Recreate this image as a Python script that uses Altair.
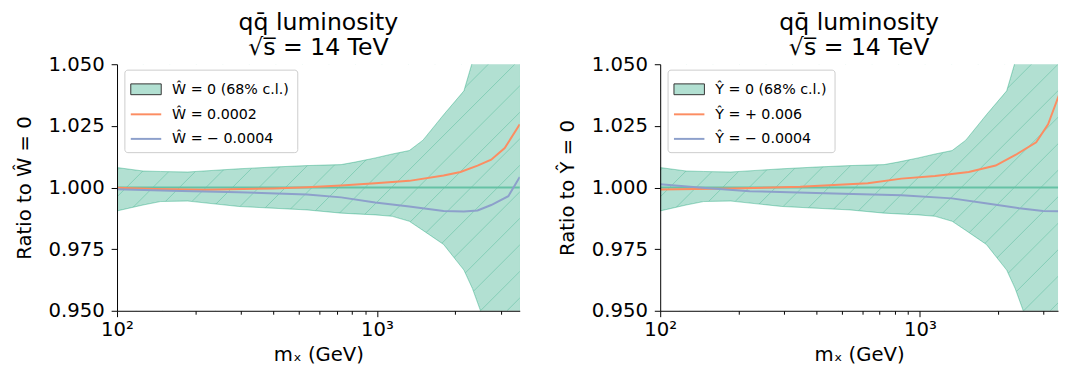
import altair as alt
import pandas as pd

# ---------------- data ----------------
band_m = [100, 126, 147, 187, 294, 398, 538, 728, 822, 984, 1145, 1331, 1502, 1803, 2159, 2328, 2500, 3000, 3540]
band_upper = [1.0081, 1.0067, 1.0065, 1.0063, 1.0076, 1.0083, 1.0089, 1.0093, 1.0103, 1.0120, 1.0136,
              1.0150, 1.0192, 1.0295, 1.0392, 1.0510, 1.0620, 1.0900, 1.1200]
band_lower = [0.9905, 0.9929, 0.9943, 0.9945, 0.9923, 0.9916, 0.9909, 0.9896, 0.9893, 0.9889, 0.9883,
              0.9863, 0.9826, 0.9769, 0.9665, 0.9590, 0.9500, 0.9300, 0.9200]

w_pos_m = [100, 140, 218, 398, 538, 728, 984, 1331, 1803, 2094, 2436, 2749, 3099, 3540]
w_pos_v = [0.9999, 0.9994, 0.9991, 0.9996, 1.0001, 1.0008, 1.0017, 1.0027, 1.0049, 1.0063, 1.0089,
           1.0113, 1.0160, 1.0256]
w_neg_m = [100, 161, 294, 538, 728, 984, 1331, 1803, 2159, 2436, 2749, 3199, 3540]
w_neg_v = [0.9993, 0.9987, 0.9981, 0.9972, 0.9960, 0.9939, 0.9923, 0.9905, 0.9903, 0.9907, 0.9929,
           0.9965, 1.0043]

y_pos_m = [100, 190, 346, 630, 849, 1143, 1542, 1958, 2343, 2805, 3117, 3436, 3540]
y_pos_v = [0.9992, 0.9996, 1.0003, 1.0017, 1.0036, 1.0047, 1.0063, 1.0089, 1.0133, 1.0183, 1.0256,
           1.0376, 1.0420]
y_neg_m = [100, 141, 221, 467, 849, 1328, 1791, 2415, 2978, 3540]
y_neg_v = [1.0013, 1.0000, 0.9985, 0.9976, 0.9969, 0.9956, 0.9936, 0.9916, 0.9905, 0.9903]

central = [1.0]
x_ticks = [100, 200, 300, 400, 500, 600, 700, 800, 900, 1000, 2000, 3000]
y_ticks = [0.95, 0.975, 1.0, 1.025, 1.05]

left_labels = ["Ŵ = 0 (68% c.l.)", "Ŵ = 0.0002", "Ŵ =  − 0.0004"]
right_labels = ["Ŷ = 0 (68% c.l.)", "Ŷ =  + 0.006", "Ŷ =  − 0.0004"]
title_lines = ["qq\u0304 luminosity", "\u221As\u0305 = 14 TeV"]

TEAL = "#66c2a5"
ORANGE = "#fc8d62"
PURPLE = "#8da0cb"
FONT = "DejaVu Sans"
H = 251


def panel(width, xmax, pos_m, pos_v, neg_m, neg_v, ytitle, labels, box_w):
    band = pd.DataFrame({"m": band_m, "upper": band_upper, "lower": band_lower})
    pos = pd.DataFrame({"m": pos_m, "v": pos_v})
    neg = pd.DataFrame({"m": neg_m, "v": neg_v})
    one = pd.DataFrame({"a": [0]})

    xs = alt.Scale(type="log", domain=[100, xmax], nice=False)
    ys = alt.Scale(domain=[0.95, 1.05], nice=False, zero=False)
    xaxis = alt.Axis(
        values=x_ticks,
        labelExpr="datum.value == 100 ? '10²' : datum.value == 1000 ? '10³' : ''",
        tickSize={"condition": {"test": "datum.value == 100 || datum.value == 1000", "value": 6},
                  "value": 3.5},
        labelFlush=False, labelPadding=3, title="mₓ (GeV)", titlePadding=6,
        grid=False, zindex=1,
    )
    yaxis = alt.Axis(
        values=y_ticks, format=".3f", tickSize=6, labelPadding=7, labelFlush=False,
        minExtent=72, maxExtent=72, title=ytitle, titlePadding=12, grid=False, zindex=1,
    )
    X = alt.X("m:Q", scale=xs, axis=xaxis)

    area = alt.Chart(band).mark_area(fill=TEAL, fillOpacity=0.5, stroke=TEAL, strokeOpacity=0.6,
                                     strokeWidth=1, clip=True).encode(
        x=X, y=alt.Y("upper:Q", scale=ys, axis=yaxis), y2="lower:Q")

    hatch = alt.Chart(alt.sequence(-H, width + 1, 27, as_="k")).transform_calculate(
        hx1="datum.k", hx2="datum.k + %d" % H, hy1=str(H), hy2="0"
    ).mark_rule(color=TEAL, opacity=0.6, strokeWidth=1, clip=True).encode(
        x=alt.X("hx1:Q", scale=None), x2="hx2:Q", y=alt.Y("hy1:Q", scale=None), y2="hy2:Q")

    mask_up = alt.Chart(band).mark_area(color="white", opacity=1, clip=True).encode(
        x="m:Q", y="upper:Q", y2=alt.Y2Datum(1.3))
    mask_lo = alt.Chart(band).mark_area(color="white", opacity=1, clip=True).encode(
        x="m:Q", y="lower:Q", y2=alt.Y2Datum(0.8))
    edge_up = alt.Chart(band).mark_line(color=TEAL, opacity=0.6, strokeWidth=1, clip=True).encode(
        x="m:Q", y="upper:Q")
    edge_lo = alt.Chart(band).mark_line(color=TEAL, opacity=0.6, strokeWidth=1, clip=True).encode(
        x="m:Q", y="lower:Q")

    rule = alt.Chart(pd.DataFrame({"c": central})).mark_rule(color=TEAL, strokeWidth=2).encode(
        y="c:Q")
    lpos = alt.Chart(pos).mark_line(color=ORANGE, strokeWidth=2, clip=True).encode(x="m:Q", y="v:Q")
    lneg = alt.Chart(neg).mark_line(color=PURPLE, strokeWidth=2, clip=True).encode(x="m:Q", y="v:Q")

    # legend
    box = alt.Chart(one).mark_rect(fill="white", fillOpacity=0.8, stroke="#cccccc", strokeWidth=1,
                                   cornerRadius=3).encode(
        x=alt.value(8), x2=alt.value(8 + box_w), y=alt.value(6), y2=alt.value(90))
    sw_band = alt.Chart(one).mark_rect(fill=TEAL, fillOpacity=0.5, stroke="#333333",
                                       strokeWidth=1).encode(
        x=alt.value(14), x2=alt.value(45), y=alt.value(20), y2=alt.value(31))
    sw_pos = alt.Chart(one).mark_rule(color=ORANGE, strokeWidth=2).encode(
        x=alt.value(14), x2=alt.value(45), y=alt.value(51))
    sw_neg = alt.Chart(one).mark_rule(color=PURPLE, strokeWidth=2).encode(
        x=alt.value(14), x2=alt.value(45), y=alt.value(76))
    leg_df = pd.DataFrame({"label": labels, "row": [0, 1, 2]})
    leg_txt = alt.Chart(leg_df).transform_calculate(ly="26 + datum.row * 25.3").mark_text(
        align="left", baseline="middle", fontSize=14.5, font=FONT, color="black").encode(
        x=alt.value(56), y=alt.Y("ly:Q", scale=None), text="label:N")

    return alt.layer(area, hatch, mask_up, mask_lo, edge_up, edge_lo, rule, lpos, lneg,
                     box, sw_band, sw_pos, sw_neg, leg_txt).properties(
        width=width, height=H,
        title=alt.TitleParams(text=title_lines, fontSize=24, font=FONT, fontWeight="normal",
                              lineHeight=26, anchor="middle", frame="group", offset=-6,
                              color="black"),
    )


left = panel(410, 3540, w_pos_m, w_pos_v, w_neg_m, w_neg_v, "Ratio to Ŵ = 0", left_labels, 176)
right = panel(405, 3404, y_pos_m, y_pos_v, y_neg_m, y_neg_v, "Ratio to Ŷ = 0", right_labels, 170)

chart = alt.hconcat(left, right, spacing=38).configure(
    font=FONT, padding={"left": 7, "top": 0, "right": 0, "bottom": 0}
).configure_view(stroke=None).configure_axis(
    domainColor="black", tickColor="black", labelColor="black", titleColor="black",
    labelFont=FONT, titleFont=FONT, labelFontSize=20, titleFontSize=20, titleFontWeight="normal",
    domainWidth=1, tickWidth=1,
)

chart.save("out.html", embed_options={"renderer": "svg", "actions": False})
